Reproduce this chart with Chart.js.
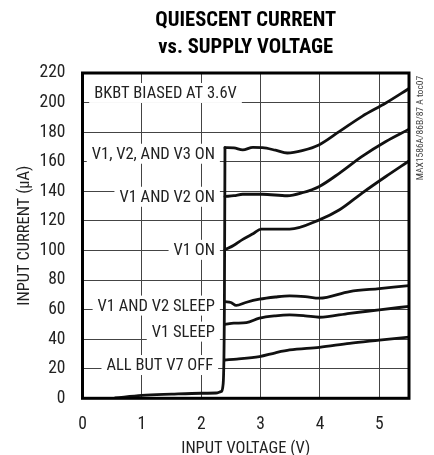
<!DOCTYPE html>
<html>
<head>
<meta charset="utf-8">
<script src="https://cdn.jsdelivr.net/npm/chart.js@4/dist/chart.umd.min.js"></script>
<style>
  html, body { margin: 0; padding: 0; background: #fff; }
  #wrap { width: 434px; height: 455px; }
</style>
</head>
<body>
<div id="wrap"><canvas id="qc-chart" width="434" height="455"></canvas></div>
<script>
// Quiescent current vs supply voltage (MAX1586A/86B/87 toc07)

// Tick labels
const xTicks = [0, 1, 2, 3, 4, 5];
const yTicks = [0, 20, 40, 60, 80, 100, 120, 140, 160, 180, 200, 220];

// Shared low-voltage part and the jump at ~2.4V
const baseV = [0.55, 1.0, 1.5, 2.0, 2.25, 2.33, 2.37, 2.39, 2.4];
const baseI = [0.2, 2.0, 2.8, 3.4, 3.6, 4.5, 10, 60, 169.5];

// Series, each as voltage / current pairs
const v123OnV = [2.4, 2.55, 2.7, 2.87, 3.03, 3.25, 3.45, 3.7, 3.99, 4.33, 4.71, 5.11, 5.5];
const v123OnI = [169.5, 169.3, 168.0, 169.7, 169.5, 167.8, 165.9, 167.5, 171.5, 180.5, 190.7, 199.7, 209.5];

const v12OnV = [2.4, 2.55, 2.7, 3.03, 3.45, 3.7, 3.99, 4.33, 4.71, 5.11, 5.5];
const v12OnI = [136.5, 137.0, 138.0, 138.0, 137.0, 139.0, 143.3, 152.3, 163.6, 173.7, 182.0];

const v1OnV = [2.4, 2.55, 2.7, 2.88, 3.01, 3.49, 3.99, 4.33, 4.71, 5.11, 5.5];
const v1OnI = [100.4, 103.5, 107.5, 111.5, 114.4, 114.4, 120.7, 127.5, 138.8, 150.0, 160.5];

const v12SleepV = [2.4, 2.5, 2.59, 2.75, 2.98, 3.25, 3.49, 3.75, 3.99, 4.5, 5.0, 5.5];
const v12SleepI = [65.4, 64.8, 62.8, 64.8, 67.0, 68.5, 69.3, 68.8, 67.7, 72.2, 74.2, 76.2];

const v1SleepV = [2.4, 2.55, 2.76, 2.98, 3.25, 3.49, 3.75, 3.99, 4.5, 5.0, 5.5];
const v1SleepI = [50.0, 50.8, 51.2, 54.2, 55.8, 56.4, 55.8, 54.8, 57.5, 59.8, 62.2];

const allOffV = [2.4, 2.6, 2.98, 3.25, 3.49, 3.99, 4.5, 5.0, 5.5];
const allOffI = [25.9, 26.5, 28.2, 30.8, 32.7, 34.5, 37.2, 39.3, 41.4];

// Curve labels: text, right edge voltage, centre current
const labelText = ['BKBT BIASED AT 3.6V', 'V1, V2, AND V3 ON', 'V1 AND V2 ON', 'V1 ON',
  'V1 AND V2 SLEEP', 'V1 SLEEP', 'ALL BUT V7 OFF'];
const labelRightV = [2.6, 2.23, 2.23, 2.23, 2.23, 2.23, 2.2];
const labelMidI = [206.5, 165.4, 136.3, 100.4, 62.7, 45.1, 22.5];

// Pick a narrow face if one is installed, else shrink a normal one to the same width
const measureCtx = document.createElement('canvas').getContext('2d');
function textWidth(font, s) {
  measureCtx.font = font;
  return measureCtx.measureText(s).width;
}
function hasFont(name) {
  const s = 'mmmmmWWWiil1,0';
  return ['monospace', 'serif'].some(f =>
    textWidth('40px "' + name + '", ' + f, s) !== textWidth('40px ' + f, s));
}
const candidates = ['Liberation Sans Narrow', 'Arial Narrow', 'Roboto Condensed', 'Liberation Sans'];
const FAMILY = candidates.find(hasFont) || 'sans-serif';
const FONT = '"' + FAMILY + '", sans-serif';
function fitSize(sample, target, weight, cap) {
  const w = textWidth((weight || '') + ' 20px ' + FONT, sample);
  return Math.min(cap, Math.round(20 * target / w * 10) / 10);
}
const labelSize = fitSize('V1, V2, AND V3 ON', 123, '', 17);
const titleSize = fitSize('QUIESCENT CURRENT', 181, 'bold', 21);

function pairs(xs, ys) {
  return xs.map((x, i) => ({ x: x, y: ys[i] }));
}

function lineSet(xs, ys) {
  return {
    data: pairs(xs, ys),
    showLine: true,
    borderColor: '#111',
    borderWidth: 2.8,
    pointRadius: 0,
    fill: false,
    cubicInterpolationMode: 'monotone',
    borderCapStyle: 'round',
    borderJoinStyle: 'round'
  };
}

// White boxes and curve labels, drawn over the grid and under the curves
const curveLabels = {
  id: 'curveLabels',
  beforeDatasetsDraw(chart) {
    const ctx = chart.ctx;
    const xs = chart.scales.x;
    const ys = chart.scales.y;
    ctx.save();
    ctx.font = labelSize + 'px ' + FONT;
    ctx.textAlign = 'right';
    ctx.textBaseline = 'middle';
    labelText.forEach((t, i) => {
      const xr = xs.getPixelForValue(labelRightV[i]);
      const yc = ys.getPixelForValue(labelMidI[i]);
      const w = ctx.measureText(t).width;
      ctx.fillStyle = '#fff';
      ctx.fillRect(xr - w - 5, yc - 10, w + 10, 20);
      ctx.fillStyle = '#222';
      ctx.fillText(t, xr, yc + 1);
    });
    ctx.restore();
  },
  afterDraw(chart) {
    const ctx = chart.ctx;
    const a = chart.chartArea;
    ctx.save();
    // heavy frame
    ctx.strokeStyle = '#000';
    ctx.lineWidth = 3;
    ctx.strokeRect(a.left, a.top, a.right - a.left, a.bottom - a.top);
    // side note
    ctx.translate(421, 128);
    ctx.rotate(-Math.PI / 2);
    ctx.font = '9.5px ' + FONT;
    ctx.fillStyle = '#444';
    ctx.textAlign = 'center';
    ctx.textBaseline = 'middle';
    ctx.fillText('MAX1586A/86B/87 A toc07', 0, 0);
    ctx.restore();
  }
};

const ctx = document.getElementById('qc-chart').getContext('2d');

new Chart(ctx, {
  type: 'scatter',
  data: {
    datasets: [
      lineSet(baseV, baseI),
      lineSet(v123OnV, v123OnI),
      lineSet(v12OnV, v12OnI),
      lineSet(v1OnV, v1OnI),
      lineSet(v12SleepV, v12SleepI),
      lineSet(v1SleepV, v1SleepI),
      lineSet(allOffV, allOffI)
    ]
  },
  options: {
    responsive: false,
    animation: false,
    layout: {
      padding: { left: 0, right: 25, top: 0, bottom: 0 }
    },
    plugins: {
      legend: { display: false },
      tooltip: { enabled: false },
      title: {
        display: true,
        fullSize: false,
        text: ['QUIESCENT CURRENT', 'vs. SUPPLY VOLTAGE'],
        color: '#000',
        font: { family: FONT, size: titleSize, weight: 'bold', lineHeight: '27.5px' },
        padding: { top: 7, bottom: 11 }
      }
    },
    scales: {
      x: {
        type: 'linear',
        min: 0,
        max: 5.5,
        afterBuildTicks: (scale) => {
          scale.ticks = xTicks.map(v => ({ value: v }));
        },
        afterFit: (scale) => {
          scale.height = 56.7;
        },
        grid: {
          color: '#444',
          lineWidth: 1,
          drawTicks: false
        },
        border: { display: false },
        ticks: {
          color: '#222',
          padding: 16,
          font: { family: FONT, size: labelSize + 1 },
          callback: (v) => v
        },
        title: {
          display: true,
          text: 'INPUT VOLTAGE (V)',
          color: '#222',
          font: { family: FONT, size: labelSize },
          padding: { top: 0, bottom: -4 }
        }
      },
      y: {
        type: 'linear',
        min: 0,
        max: 220,
        afterBuildTicks: (scale) => {
          scale.ticks = yTicks.map(v => ({ value: v }));
        },
        afterFit: (scale) => {
          scale.width = 82.5;
        },
        grid: {
          color: '#444',
          lineWidth: 1,
          drawTicks: false
        },
        border: { display: false },
        ticks: {
          color: '#222',
          padding: 17,
          font: { family: FONT, size: labelSize + 1 },
          callback: (v) => v
        },
        title: {
          display: true,
          text: 'INPUT CURRENT (μA)',
          color: '#222',
          font: { family: FONT, size: labelSize },
          padding: { top: 15, bottom: 0 }
        }
      }
    }
  },
  plugins: [curveLabels]
});
</script>
</body>
</html>
